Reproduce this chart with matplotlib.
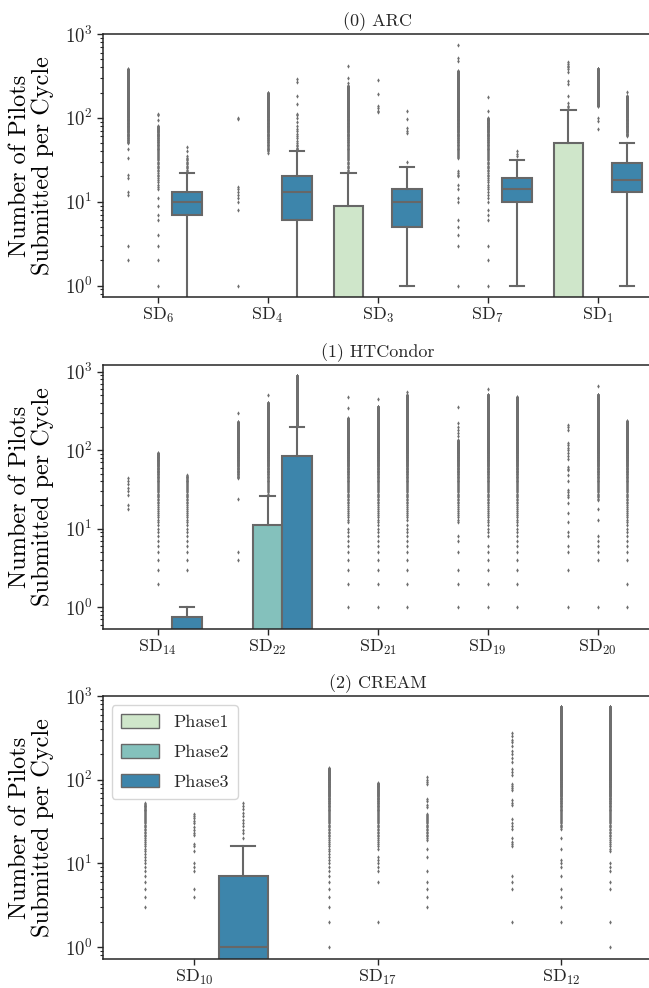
import numpy as np
import matplotlib
matplotlib.use("Agg")
import matplotlib.pyplot as plt
from matplotlib.patches import Patch
import seaborn as sns

plt.rcParams.update({
    "font.family": "serif",
    "font.serif": ["cmr10"],
    "mathtext.fontset": "cm",
    "axes.formatter.use_mathtext": True,
    "axes.unicode_minus": False,
    "text.color": "#262626",
    "xtick.color": "#262626",
    "ytick.color": "#262626",
})

phases = ["Phase1", "Phase2", "Phase3"]

# ---------------- (0) ARC ----------------
arc_sites = ["SD$_{6}$", "SD$_{4}$", "SD$_{3}$", "SD$_{7}$", "SD$_{1}$"]
# box stats: (q1, median, q3, whisker_low, whisker_high) or None (all quartiles at 0)
arc_box_p1 = [None, None, (0, 0, 9, 0, 22), None, (0, 0, 50, 0, 125)]
arc_box_p2 = [None, None, None, None, None]
arc_box_p3 = [(7, 10, 13, 0, 22), (6, 13, 20, 0, 40), (5, 10, 14, 1, 26),
              (10, 14, 19, 1, 31), (13, 18, 29, 1, 50)]
arc_fl_p1 = [[2, 3, 12, 13, 19, 21, 33, 42],
             [1, 8, 10, 11, 12, 13, 14, 15, 98, 100],
             [260, 295, 410],
             [1, 3, 4, 5, 6, 10, 11, 14, 16, 20, 21, 22, 23, 470, 520, 736],
             [128, 133, 140, 150, 182, 255, 275, 350, 380, 400, 420, 440, 460]]
arc_fl_p2 = [[1, 2, 3, 4, 6, 7, 9, 11, 95, 107, 110],
             [38],
             [117, 122, 130, 140, 195, 280],
             [1, 2, 3, 6, 7, 8, 120, 175],
             [73, 92, 100]]
arc_fl_p3 = [[35, 40, 45],
             [42, 43, 44, 46, 48, 50, 53, 57, 61, 65, 69, 73, 80, 90, 100, 107,
              110, 148, 182, 268, 294],
             [30, 66, 70, 76, 98, 120],
             [35, 37, 40],
             [205]]
# dense runs of integer-valued outliers: (lowest, highest)
arc_run_p1 = [(50, 380), None, (23, 240), (33, 360), None]
arc_run_p2 = [(14, 80), (40, 200), None, (10, 100), (138, 386)]
arc_run_p3 = [(23, 33), None, None, None, (61, 182)]

# ---------------- (1) HTCondor ----------------
htc_sites = ["SD$_{14}$", "SD$_{22}$", "SD$_{21}$", "SD$_{19}$", "SD$_{20}$"]
htc_box_p1 = [None, None, None, None, None]
htc_box_p2 = [None, (0, 0, 11, 0, 26), None, None, None]
htc_box_p3 = [(0, 0, 0.75, 0, 1), (0, 0, 84, 0, 200), None, None, None]
htc_fl_p1 = [[18, 20, 27, 30, 33, 37, 40, 44],
             [4, 5, 24, 295],
             [1, 2, 3, 4, 5, 6, 7, 8, 9, 10, 340, 480],
             [1, 2, 3, 5, 7, 8, 150, 165, 180, 200, 224, 350],
             [1, 3, 5, 6, 8, 9, 12, 16, 21, 25, 27, 29, 31, 40, 48, 56, 58, 61,
              78, 85, 92, 100, 108, 115, 122, 180, 195, 208]]
htc_fl_p2 = [[2, 3, 4, 5, 6],
             [505],
             [1, 2, 3, 4, 5, 6, 7, 8, 9, 445],
             [1, 2, 3, 4, 5, 6, 598],
             [1, 4, 5, 6, 7, 8, 13, 18, 658]]
htc_fl_p3 = [[3, 4, 5, 6],
             [],
             [1, 2, 3, 4, 5, 6, 7, 8, 9, 10, 11, 557],
             [1, 2, 3, 4, 5, 6, 7],
             [1, 2, 4, 5, 6, 7]]
htc_run_p1 = [None, (44, 230), (12, 255), (12, 134), None]
htc_run_p2 = [(7, 93), (28, 400), (10, 358), (8, 505), (23, 505)]
htc_run_p3 = [(7, 48), (210, 880), (13, 500), (8, 472), (8, 235)]

# ---------------- (2) CREAM ----------------
crm_sites = ["SD$_{10}$", "SD$_{17}$", "SD$_{12}$"]
crm_box_p1 = [None, None, None]
crm_box_p2 = [None, None, None]
crm_box_p3 = [(0, 1, 7, 0, 16), None, None]
crm_fl_p1 = [[3, 4, 5],
             [1, 2, 3, 4, 5, 6, 7, 8],
             [2, 5, 6, 7, 16, 17, 18, 20, 26, 28, 30, 34, 50, 53, 57, 75, 80, 85,
              90, 115, 125, 135, 163, 180, 200, 220, 250, 280, 300, 330, 363]]
crm_fl_p2 = [[4, 5, 8, 9, 10, 14, 16, 17, 22, 23, 25, 27, 30, 32, 35, 37, 39],
             [2, 6, 8, 9, 10, 11, 12],
             [2, 3, 4, 5, 7, 9, 10, 11, 15, 20]]
crm_fl_p3 = [[20, 23, 25, 28, 30, 33, 37, 40, 45, 48, 52],
             [3, 4, 5, 6, 8, 12, 15, 47, 50, 55, 59, 90, 95, 100, 107],
             [1, 2, 5, 6, 8, 9, 10]]
crm_run_p1 = [(6, 52), (9, 138), None]
crm_run_p2 = [None, (15, 92), (26, 738)]
crm_run_p3 = [None, (19, 39), (14, 738)]

# ---------------- styling ----------------
pal = [sns.desaturate(c, 0.75) for c in sns.color_palette("GnBu", 3)]
line_col = "#676767"
flier_col = "#6f6f6f"
LW = 1.5
MS = 2.2

fig = plt.figure(figsize=(6.49, 9.88), dpi=100)
W = 649.0
H = 988.0
panel_px = [(34, 297), (365, 628.5), (696, 959)]


def draw_panel(ax, sites, boxes, fliers, runs, title, ylim):
    n = len(sites)
    w = 0.8 / 3
    ax.set_yscale("log", nonpositive="clip")
    for j in range(3):
        for i in range(n):
            pos = i + (j - 1) * w
            pts = list(fliers[j][i])
            if runs[j][i] is not None:
                lo, hi = runs[j][i]
                pts += list(range(lo, hi + 1))
            box = boxes[j][i]
            if box is not None:
                q1, med, q3, wlo, whi = box
                st = dict(med=med, q1=q1, q3=q3, whislo=wlo, whishi=whi,
                          fliers=pts)
                ax.bxp([st], positions=[pos], widths=w, patch_artist=True,
                       manage_ticks=False,
                       boxprops=dict(facecolor=pal[j], edgecolor=line_col,
                                     linewidth=LW),
                       medianprops=dict(color=line_col, linewidth=LW),
                       whiskerprops=dict(color=line_col, linewidth=LW),
                       capprops=dict(color=line_col, linewidth=LW),
                       flierprops=dict(marker="d", markersize=MS,
                                       markerfacecolor=flier_col,
                                       markeredgecolor="none",
                                       markeredgewidth=0, linestyle="none"))
            elif pts:
                ax.plot([pos] * len(pts), pts, linestyle="none", marker="d",
                        markersize=MS, markerfacecolor=flier_col,
                        markeredgecolor="none", markeredgewidth=0)
    ax.set_xticks(range(n))
    ax.set_xticklabels(sites, fontsize=13)
    ax.set_xlim(-0.5, n - 0.5)
    ax.set_ylim(*ylim)
    ax.set_title(title, fontsize=13, pad=6)
    ax.set_ylabel("Number of Pilots\nSubmitted per Cycle", fontsize=17.5,
                  linespacing=1.0, labelpad=8)
    ax.tick_params(axis="y", which="major", labelsize=13.5, length=4, width=1)
    ax.tick_params(axis="y", which="minor", length=2.5, width=0.8)
    ax.tick_params(axis="x", which="major", length=4, width=1, pad=2.5)
    for s in ax.spines.values():
        s.set_linewidth(1.1)
        s.set_color("#262626")


specs = [
    (arc_sites, [arc_box_p1, arc_box_p2, arc_box_p3],
     [arc_fl_p1, arc_fl_p2, arc_fl_p3], [arc_run_p1, arc_run_p2, arc_run_p3],
     "(0) ARC", (0.73, 1000)),
    (htc_sites, [htc_box_p1, htc_box_p2, htc_box_p3],
     [htc_fl_p1, htc_fl_p2, htc_fl_p3], [htc_run_p1, htc_run_p2, htc_run_p3],
     "(1) HTCondor", (0.534, 1218)),
    (crm_sites, [crm_box_p1, crm_box_p2, crm_box_p3],
     [crm_fl_p1, crm_fl_p2, crm_fl_p3], [crm_run_p1, crm_run_p2, crm_run_p3],
     "(2) CREAM", (0.72, 1000)),
]

axes = []
for (top, bot), spec in zip(panel_px, specs):
    ax = fig.add_axes([102.7 / W, 1 - bot / H, 550 / W, (bot - top) / H])
    draw_panel(ax, *spec)
    axes.append(ax)

handles = [Patch(facecolor=pal[k], edgecolor=line_col, linewidth=1.0,
                 label=phases[k]) for k in range(3)]
axes[2].legend(handles=handles, loc="upper left", fontsize=13,
               frameon=True, labelspacing=0.75, handleheight=0.8,
               handlelength=2.1, borderpad=0.5)

fig.savefig("out.png", dpi=100)
